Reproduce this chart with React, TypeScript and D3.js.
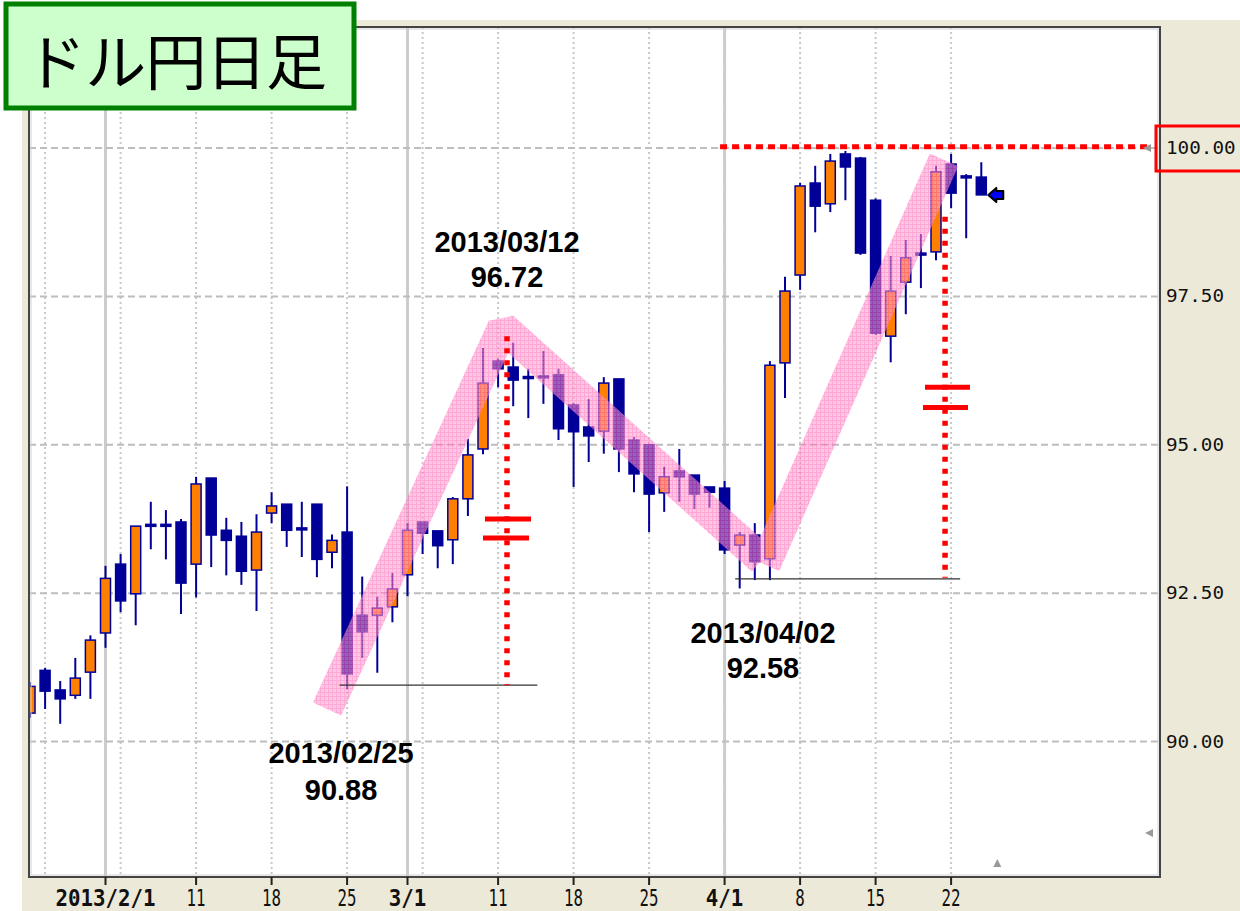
import React from "react";
import * as d3 from "d3";

const dates = [
  "2013-01-25",
  "2013-01-28", "2013-01-29", "2013-01-30", "2013-01-31", "2013-02-01",
  "2013-02-04", "2013-02-05", "2013-02-06", "2013-02-07", "2013-02-08",
  "2013-02-11", "2013-02-12", "2013-02-13", "2013-02-14", "2013-02-15",
  "2013-02-18", "2013-02-19", "2013-02-20", "2013-02-21", "2013-02-22",
  "2013-02-25", "2013-02-26", "2013-02-27", "2013-02-28", "2013-03-01",
  "2013-03-04", "2013-03-05", "2013-03-06", "2013-03-07", "2013-03-08",
  "2013-03-11", "2013-03-12", "2013-03-13", "2013-03-14", "2013-03-15",
  "2013-03-18", "2013-03-19", "2013-03-20", "2013-03-21", "2013-03-22",
  "2013-03-25", "2013-03-26", "2013-03-27", "2013-03-28", "2013-03-29",
  "2013-04-01", "2013-04-02", "2013-04-03", "2013-04-04", "2013-04-05",
  "2013-04-08", "2013-04-09", "2013-04-10", "2013-04-11", "2013-04-12",
  "2013-04-15", "2013-04-16", "2013-04-17", "2013-04-18", "2013-04-19",
  "2013-04-22", "2013-04-23", "2013-04-24",
];

const opens = [
  90.48,
  91.20, 90.87, 90.78, 91.17, 91.83,
  92.99, 92.49, 93.66, 93.66, 93.70,
  92.99, 94.44, 93.56, 93.46, 92.89,
  93.85, 94.00, 93.60, 94.00, 93.19,
  93.53, 92.13, 92.13, 92.27, 92.81,
  93.70, 93.55, 93.40, 94.09, 94.93,
  96.41, 96.31, 96.15, 96.16, 96.18,
  95.67, 95.30, 95.23, 96.11, 95.08,
  95.00, 94.19, 94.56, 94.49, 94.29,
  94.27, 93.31, 93.48, 93.08, 96.38,
  97.86, 99.41, 99.06, 99.90, 99.83,
  99.12, 96.83, 97.74, 98.23, 98.25,
  99.73, 99.53, 99.51,
];
const highs = [
  91.00,
  91.24, 91.02, 91.41, 91.79, 92.96,
  93.16, 93.63, 94.04, 93.90, 93.75,
  94.46, 94.44, 93.77, 93.70, 93.83,
  94.20, 94.00, 94.04, 94.00, 93.49,
  94.30, 92.78, 92.44, 92.84, 93.68,
  93.70, 93.55, 94.12, 95.10, 96.63,
  96.45, 96.72, 96.28, 96.58, 96.28,
  95.70, 95.77, 96.14, 96.11, 95.13,
  95.00, 94.63, 94.93, 94.49, 94.29,
  94.39, 93.53, 93.68, 96.41, 97.83,
  99.41, 99.70, 99.90, 99.95, 99.85,
  99.15, 98.18, 98.45, 98.55, 99.70,
  99.90, 99.56, 99.76,
];
const lows = [
  90.40,
  90.55, 90.30, 90.72, 90.72, 91.58,
  92.18, 91.96, 93.24, 93.07, 92.15,
  92.43, 92.94, 92.80, 92.64, 92.20,
  93.68, 93.28, 93.11, 92.77, 92.92,
  90.88, 91.41, 91.16, 92.01, 92.45,
  93.16, 92.92, 92.99, 93.80, 94.84,
  95.97, 95.65, 95.45, 95.69, 95.08,
  94.29, 94.71, 94.85, 94.54, 94.20,
  93.53, 93.87, 94.04, 93.92, 93.94,
  93.16, 92.58, 92.72, 92.72, 95.79,
  97.61, 98.58, 98.92, 99.12, 98.20,
  96.85, 96.39, 97.20, 97.64, 98.11,
  98.99, 98.48, 99.21,
];
const closes = [
  90.93,
  90.85, 90.72, 91.07, 91.71, 92.75,
  92.37, 93.63, 93.64, 93.64, 92.67,
  94.34, 93.48, 93.39, 92.87, 93.53,
  93.97, 93.56, 93.58, 93.07, 93.39,
  91.14, 91.85, 92.25, 92.57, 93.56,
  93.51, 93.30, 94.09, 94.83, 96.04,
  96.28, 96.09, 96.12, 96.14, 95.27,
  95.22, 95.15, 96.04, 94.93, 94.51,
  94.17, 94.46, 94.46, 94.17, 94.20,
  93.23, 93.48, 93.03, 96.34, 97.59,
  99.36, 99.02, 99.78, 99.68, 98.23,
  96.88, 97.59, 98.15, 98.20, 99.60,
  99.24, 99.50, 99.21,
];

const yTicks = [90, 92.5, 95, 97.5, 100];
const yTickLabels = ["90.00", "92.50", "95.00", "97.50", "100.00"];

const xTickDates = [
  "2013-02-01", "2013-02-11", "2013-02-18", "2013-02-25", "2013-03-01", "2013-03-11",
  "2013-03-18", "2013-03-25", "2013-04-01", "2013-04-08", "2013-04-15", "2013-04-22",
];
const xTickLabels = ["2013/2/1", "11", "18", "25", "3/1", "11", "18", "25", "4/1", "8", "15", "22"];
const xTickBold = [true, false, false, false, true, false, false, false, true, false, false, false];

const weekGridDates = [
  "2013-01-28", "2013-02-04", "2013-02-11", "2013-02-18", "2013-02-25", "2013-03-04", "2013-03-11",
  "2013-03-18", "2013-03-25", "2013-04-01", "2013-04-08", "2013-04-15", "2013-04-22",
];
const monthGridDates = ["2013-02-01", "2013-03-01", "2013-04-01"];

// annotation geometry in data units: [index, price]
const bandPaths: [number, number][][] = [
  [[19.67, 90.55], [31.32, 96.98], [48.48, 93.06]],
  [[48.68, 92.98], [60.53, 99.8]],
];
const redVLines = [
  { idx: 31.59, from: 96.83, to: 90.95 },
  { idx: 60.6, from: 98.84, to: 92.76 },
];
const redHLine = { price: 100.02, from: 45.7, to: 74.2 };
const blackLines = [
  { price: 90.95, from: 20.5, to: 33.6 },
  { price: 92.74, from: 46.7, to: 61.6 },
];
const equalBars = [
  { price: 93.75, from: 30.13, to: 33.18 },
  { price: 93.43, from: 30.0, to: 33.05 },
  { price: 95.97, from: 59.27, to: 62.25 },
  { price: 95.63, from: 59.14, to: 62.12 },
];
const noteDates = ["2013/03/12", "2013/02/25", "2013/04/02"];
const noteValues = ["96.72", "90.88", "92.58"];
const noteIdx = [31.59, 20.6, 48.54];
const notePrice1 = [98.25, 89.64, 91.66];
const notePrice2 = [97.66, 89.02, 91.07];

const W = 1240;
const H = 911;
const PL = 29, PR = 1160, PT = 27, PB = 877;

export default function App() {
  const x = d3.scaleLinear().domain([0, dates.length - 1]).range([30, 30 + 15.1 * (dates.length - 1)]);
  const xd = (d: string) => x(dates.indexOf(d));
  const y = d3.scaleLinear().domain([90, 100]).range([741.6, 148]);
  const BLUE = "#000099";
  const ORANGE = "#ff8000";
  const bw = 10;
  const last = dates.length - 1;
  const ax = x(last) + 7;
  const ay = y(closes[last]);
  const bandLine = d3.line<[number, number]>().x((p) => x(p[0])).y((p) => y(p[1]));

  return (
    <svg width={W} height={H} style={{ position: "absolute", left: 0, top: 0, display: "block" }}
      xmlns="http://www.w3.org/2000/svg">
      <defs>
        <clipPath id="plot">
          <rect x={PL + 1} y={PT + 1} width={PR - PL - 2} height={PB - PT - 2} />
        </clipPath>
        <pattern id="pinkgrid" width="4" height="4" patternUnits="userSpaceOnUse">
          <rect width="4" height="4" fill="#ff9fd2" />
          <rect width="4" height="1" fill="#ff6fbb" />
          <rect width="1" height="4" fill="#ff6fbb" />
        </pattern>
      </defs>
      <rect x={0} y={0} width={W} height={H} fill="#ffffff" />
      <rect x={22} y={20} width={W - 22} height={H - 20} fill="#ece9d8" />
      <rect x={PL} y={PT} width={PR - PL} height={PB - PT} fill="#ffffff" />

      <g clipPath="url(#plot)">
        {weekGridDates.map((d) => (
          <line key={"w" + d} x1={xd(d)} x2={xd(d)} y1={PT} y2={PB} stroke="#c8c8c8" strokeWidth={2} strokeDasharray="2,3" />
        ))}
        {monthGridDates.map((d) => (
          <line key={"m" + d} x1={xd(d)} x2={xd(d)} y1={PT} y2={PB} stroke="#cccccc" strokeWidth={3} />
        ))}
        {yTicks.map((t) => (
          <line key={"h" + t} x1={PL} x2={PR} y1={y(t)} y2={y(t)} stroke="#bdbdbd" strokeWidth={2} strokeDasharray="7,4" />
        ))}

        {dates.map((d, i) => {
          const o = opens[i], c = closes[i], h = highs[i], l = lows[i];
          const up = c > o;
          const cx = x(i);
          const top = y(Math.max(o, c));
          const bot = y(Math.min(o, c));
          const bh = Math.max(bot - top, 2);
          return (
            <g key={d}>
              <line x1={cx} x2={cx} y1={y(h)} y2={y(l)} stroke={BLUE} strokeWidth={2} />
              <rect x={cx - bw / 2} y={top} width={bw} height={bh}
                fill={up ? ORANGE : BLUE} stroke={BLUE} strokeWidth={1.5} />
            </g>
          );
        })}

        <g opacity={0.6}>
          {bandPaths.map((b, i) => (
            <path key={"b" + i} d={bandLine(b) || ""} fill="none"
              stroke="url(#pinkgrid)" strokeWidth={31} strokeLinecap="butt" strokeLinejoin="bevel" />
          ))}
        </g>

        {blackLines.map((b, i) => (
          <line key={"k" + i} x1={x(b.from)} x2={x(b.to)} y1={y(b.price)} y2={y(b.price)} stroke="#333" strokeWidth={1.2} />
        ))}

        {redVLines.map((r, i) => (
          <line key={"rv" + i} x1={x(r.idx)} x2={x(r.idx)} y1={y(r.from)} y2={y(r.to)}
            stroke="#ff0000" strokeWidth={5.5} strokeDasharray="5,7" />
        ))}
        <line x1={x(redHLine.from)} x2={x(redHLine.to)} y1={y(redHLine.price)} y2={y(redHLine.price)}
          stroke="#ff0000" strokeWidth={5} strokeDasharray="7,5" />
        {equalBars.map((b, i) => (
          <line key={"eq" + i} x1={x(b.from)} x2={x(b.to)} y1={y(b.price)} y2={y(b.price)} stroke="#ff0000" strokeWidth={5} />
        ))}

        <path d={`M${ax},${ay} L${ax + 8},${ay - 7} L${ax + 8},${ay - 4} L${ax + 15},${ay - 4} L${ax + 15},${ay + 4} L${ax + 8},${ay + 4} L${ax + 8},${ay + 7} Z`}
          fill="#0000ff" stroke="#000" strokeWidth={2} strokeLinejoin="round" />

        <path d={`M${PR - 17},${y(100)} L${PR - 9},${y(100) - 4} L${PR - 9},${y(100) + 4} Z`} fill="#999" />
        <path d={`M${PR - 15},833 L${PR - 7},829 L${PR - 7},837 Z`} fill="#999" />
        <path d={`M${x(last) + 12},867 L${x(last) + 16},859 L${x(last) + 20},867 Z`} fill="#999" />
      </g>

      <rect x={PL} y={PT} width={PR - PL} height={PB - PT} fill="none" stroke="#444" strokeWidth={2} />
      <rect x={PL + 2} y={PT + 2} width={PR - PL - 4} height={PB - PT - 4} fill="none" stroke="#d0d0d0" strokeWidth={1} />

      {xTickDates.map((d, i) => {
        const tx = xd(d);
        const lab = xTickLabels[i];
        const bold = xTickBold[i];
        return (
          <g key={"xt" + i}>
            <line x1={tx} x2={tx} y1={PB} y2={PB + 8} stroke="#222" strokeWidth={2} />
            <text x={tx} y={906} textAnchor="middle" fontFamily="'DejaVu Sans Mono', monospace"
              fontSize={23} fontWeight={bold ? 700 : 400} fill="#111"
              textLength={lab.length * (bold ? 12.5 : 9.5)} lengthAdjust="spacingAndGlyphs">
              {lab}
            </text>
          </g>
        );
      })}

      {yTicks.map((t, i) => (
        <text key={"yl" + t} x={1166} y={y(t) + 6} fontFamily="'DejaVu Sans Mono', monospace" fontSize={18}
          fill="#111" textLength={yTickLabels[i].length * 11.6} lengthAdjust="spacingAndGlyphs">
          {yTickLabels[i]}
        </text>
      ))}
      <rect x={1156} y={y(100) - 22} width={86} height={45} fill="none" stroke="#ff0000" strokeWidth={3} />

      {noteDates.map((n, i) => (
        <g key={"n" + i} fontFamily="'Liberation Sans', Arial, sans-serif" fontWeight={700} fontSize={29} fill="#000" textAnchor="middle">
          <text x={x(noteIdx[i])} y={y(notePrice1[i])}>{n}</text>
          <text x={x(noteIdx[i])} y={y(notePrice2[i])}>{noteValues[i]}</text>
        </g>
      ))}

      <rect x={6} y={4} width={348} height={104} fill="#ccffcc" stroke="#008000" strokeWidth={5} />
      <text x={25} y={58} dominantBaseline="central" fontFamily="'Noto Sans CJK JP', sans-serif" fontSize={61}
        fill="#000" textLength={302} lengthAdjust="spacing">
        ドル円日足
      </text>
    </svg>
  );
}
